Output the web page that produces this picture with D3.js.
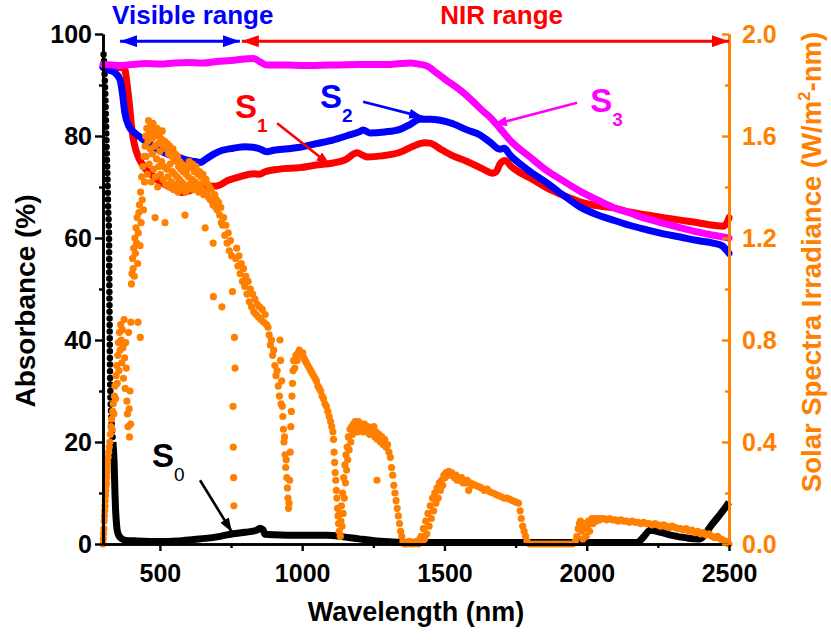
<!DOCTYPE html>
<html>
<head>
<meta charset="utf-8">
<script src="https://cdn.jsdelivr.net/npm/d3@7"></script>
<style>
  body { margin: 0; background: #fff; }
  svg { display: block; font-family: "Liberation Sans", Arial, sans-serif; font-weight: bold; }
</style>
</head>
<body>
<svg id="chart" width="831" height="640"></svg>
<script>
// ---- data ----
const xTicks = [500, 1000, 1500, 2000, 2500]
const xMinor = [750, 1250, 1750, 2250]
const absTicks = [0, 20, 40, 60, 80, 100]
const absMinor = [10, 30, 50, 70, 90]
const irrTicks = [0, 0.4, 0.8, 1.2, 1.6, 2.0]
const irrMinor = [0.2, 0.6, 1.0, 1.4, 1.8]

// S0 (bare substrate): steep UV edge drawn as dots, rest as a thick trace
const s0Edge = [[302,96],[305,93],[307,90],[310,84],[313,77],[316,71],[318,66],[321,61],[322,53],[323,45],[324,38],[325,32],[328,26],[331,23],[335,20]]
const s0Abs = [[335,20],[339,16],[342,10],[344,7],[346,5],[349,3],[353,2],[360,1.3],[367,1],[380,0.7],[420,0.6],[500,0.5],[560,0.6],[620,0.9],[676,1.2],[720,1.6],[757,2.0],[800,2.3],[840,2.7],[852,3.1],[862,2.8],[870,1.9],[900,1.8],[1000,1.7],[1087,1.7],[1145,1.4],[1200,1.0],[1263,0.6],[1320,0.4],[1400,0.3],[1600,0.3],[1800,0.3],[2000,0.3],[2177,0.3],[2200,1.4],[2223,2.7],[2260,2.3],[2300,1.7],[2352,1.2],[2395,1.0],[2415,1.8],[2433,3.3],[2460,5.2],[2493,7.6],[2500,8.2]]

const s1Abs = [[300,93.5],[340,93.5],[375,93.3],[385,90],[395,85],[402,81],[412,78],[423,76],[440,74.3],[458,73],[472,72.4],[500,71],[528,70.2],[560,69.3],[578,68.9],[600,69.2],[623,69.6],[660,70.1],[700,70.2],[740,71.3],[780,72],[830,72.6],[850,72.5],[870,73],[920,73.5],[992,73.8],[1050,74.3],[1108,74.7],[1150,75.3],[1193,76.7],[1210,76.3],[1228,75.9],[1280,76.1],[1344,76.8],[1390,78],[1430,78.7],[1449,78.6],[1490,77.3],[1530,76.1],[1580,75],[1636,73.5],[1670,72.7],[1682,73],[1695,74.5],[1713,75.2],[1735,74],[1766,72.8],[1810,71.5],[1860,69.8],[1920,68.3],[1976,67.1],[2040,66.3],[2093,65.9],[2150,65.1],[2212,64.5],[2270,64],[2328,63.5],[2390,63],[2444,62.5],[2480,62.3],[2493,63],[2500,64]]

const s2Abs = [[300,93.5],[317,93],[340,92.5],[360,91],[368,88.5],[377,84.5],[390,82],[412,80.6],[430,79.8],[458,78.6],[500,77.2],[530,76.4],[563,75.9],[600,75.2],[623,75],[641,74.8],[665,75.6],[694,76.6],[720,77.2],[757,77.6],[800,77.9],[827,77.8],[850,77.5],[876,76.9],[900,77.2],[950,77.5],[992,77.8],[1050,78.5],[1108,79.2],[1160,80.1],[1200,80.8],[1214,81.2],[1238,80.6],[1290,80.8],[1344,81.3],[1380,82.3],[1414,83.3],[1450,83.3],[1485,83.1],[1530,82.4],[1579,81.2],[1625,80.2],[1660,78.8],[1695,77.4],[1710,77.6],[1730,76.3],[1790,73.5],[1860,70.8],[1920,68.3],[1976,66.1],[2035,64.6],[2093,63.5],[2150,62.5],[2212,61.6],[2270,60.8],[2328,60.2],[2390,59.5],[2444,59],[2475,58.5],[2493,57.5],[2500,57]]

const s3Abs = [[300,94],[330,93.9],[360,93.8],[400,94],[450,94.2],[500,94.1],[550,94.3],[600,94.4],[650,94.3],[700,94.6],[750,94.8],[800,95.1],[830,95.2],[850,94.6],[876,93.9],[950,93.9],[1000,93.8],[1100,93.9],[1200,94],[1300,94],[1344,94.2],[1380,94.3],[1410,94.1],[1440,93.7],[1460,92.9],[1500,91.2],[1555,89],[1600,86.8],[1633,85],[1660,83.7],[1695,81.5],[1730,79.2],[1800,75.9],[1860,73.2],[1917,71.2],[1976,69.2],[2036,67.5],[2093,66],[2152,64.9],[2210,63.8],[2268,62.9],[2330,62],[2388,61.2],[2440,60.6],[2480,60.2],[2500,60]]

// AM1.5 solar irradiance, [nm, W/m2-nm]
const solarUv = [[300,0.00],[301,0.02],[302,0.04],[303,0.06],[304,0.09],[305,0.11],[306,0.13],[307,0.15],[308,0.17],[309,0.19],[310,0.21],[311,0.23],[312,0.24],[313,0.26],[314,0.28],[315,0.30],[316,0.32],[318,0.34],[320,0.36],[322,0.38],[324,0.40],[326,0.43],[328,0.46],[330,0.49],[332,0.45],[334,0.52],[336,0.55],[338,0.51],[340,0.58],[342,0.62],[344,0.57],[346,0.66],[348,0.70],[350,0.63],[352,0.74],[354,0.79],[356,0.68],[358,0.83],[360,0.76],[362,0.86],[364,0.80],[366,0.71],[368,0.84],[370,0.77],[372,0.65],[374,0.88],[376,0.73],[378,0.61],[380,0.79],[382,0.69],[384,0.56],[386,0.51],[388,0.46],[390,0.83],[392,0.53],[393,0.42],[395,0.60],[397,0.47],[398,0.87]]

const solarVis = [[400,1.02],[402,1.06],[404,1.12],[406,1.08],[408,1.16],[410,1.05],[412,1.20],[414,1.14],[416,1.24],[418,1.18],[420,1.28],[422,1.10],[423,0.87],[424,1.22],[426,1.30],[428,1.33],[430,1.17],[431,0.81],[432,1.38],[434,1.26],[436,1.44],[438,1.35],[440,1.48],[442,1.31],[444,1.52],[446,1.42],[448,1.56],
[450,1.60],[452,1.52],[454,1.63],[456,1.45],[458,1.58],[460,1.66],[462,1.49],[464,1.61],[466,1.55],[468,1.64],[470,1.42],[472,1.59],[474,1.53],[476,1.65],[478,1.47],[480,1.62],[482,1.56],[483,1.28],[484,1.44],[486,1.60],[488,1.51],[490,1.63],[492,1.40],[494,1.57],[496,1.48],[498,1.61],[500,1.54],[502,1.45],[504,1.59],[506,1.50],[508,1.62],[510,1.43],[512,1.56],[514,1.48],[516,1.58],[518,1.26],[520,1.41],[522,1.55],[524,1.47],[526,1.57],[528,1.44],[530,1.53],[532,1.40],[534,1.56],[536,1.49],[538,1.54],[540,1.42],[542,1.52],[544,1.46],[546,1.55],[548,1.39],[550,1.51],[552,1.45],[554,1.53],[556,1.41],[558,1.50],[560,1.44],[562,1.52],[564,1.38],[566,1.48],[568,1.43],[570,1.50],[572,1.40],[574,1.47],[576,1.42],[578,1.49],[580,1.39],[582,1.46],[584,1.41],[586,1.48],[588,1.29],[590,1.38],[592,1.45],[594,1.40],[596,1.47],[598,1.39],
[600,1.44],[603,1.50],[606,1.41],[609,1.48],[612,1.43],[615,1.49],[618,1.39],[621,1.46],[624,1.42],[627,1.48],[630,1.40],[633,1.45],[636,1.38],[639,1.46],[642,1.41],[645,1.44],[648,1.39],[651,1.45],[654,1.37],[657,1.42],[659,1.24],[662,1.43],[665,1.38],[668,1.41],[671,1.36],[674,1.40],[677,1.35],[680,1.39],[683,1.36],[686,1.33],[687,1.18],[688,0.97],[690,1.34],[693,1.37],[696,1.32],[699,1.35]]

const solarNir = [[702,1.31],[706,1.34],[710,1.29],[714,1.32],[716,1.26],[718,0.93],[720,1.25],[724,1.28],[728,1.21],[732,1.25],[736,1.18],[740,1.22],[744,1.15],[748,1.19],[752,1.13],[755,0.99],[757,0.54],[758,0.38],[759,0.26],[760,0.15],[762,0.81],[764,0.69],[766,1.12],[770,1.16],[774,1.09],[778,1.13],[782,1.06],[786,1.10],[790,1.03],[794,1.08],[798,1.01],[802,1.05],[806,0.98],[810,1.03],[814,0.95],[818,1.00],[822,0.93],[826,0.98],[830,0.91],[834,0.96],[838,0.90],[842,0.94],[846,0.89],[850,0.93],[855,0.88],[860,0.92],[865,0.87],[870,0.90],[875,0.86],[880,0.85],[884,0.82],[888,0.78],[892,0.80],[896,0.74],[900,0.76],[904,0.70],[908,0.66],[912,0.68],[916,0.62],[920,0.58],[922,0.80],[924,0.72],[926,0.55],[928,0.64],[930,0.54],[932,0.50],[934,0.45],[936,0.40],[938,0.42],[940,0.35],[942,0.30],[944,0.33],[946,0.26],[948,0.22],[950,0.18],[952,0.14],[954,0.16],[956,0.25],[958,0.36],[960,0.46],[962,0.52],[964,0.58],[966,0.63],[968,0.68],[970,0.72],[974,0.69],[978,0.74],[982,0.72],[986,0.75],[990,0.76],[994,0.75],
[998,0.74],[1002,0.75],[1006,0.73],[1010,0.72],[1015,0.71],[1020,0.70],[1025,0.69],[1030,0.68],[1035,0.67],[1040,0.66],[1045,0.65],[1050,0.64],[1055,0.62],[1060,0.61],[1065,0.60],[1070,0.58],[1075,0.57],[1080,0.55],[1085,0.54],[1090,0.52],[1095,0.50],[1100,0.48],[1104,0.46],[1108,0.44],[1110,0.41],[1112,0.36],[1114,0.32],[1116,0.28],[1118,0.25],[1120,0.21],[1122,0.18],[1124,0.14],[1126,0.11],[1128,0.08],[1130,0.05],[1132,0.12],[1134,0.03],[1136,0.09],[1138,0.15],[1140,0.07],[1142,0.20],[1144,0.12],[1146,0.26],[1148,0.18],[1150,0.31],[1152,0.24],[1154,0.35],[1156,0.29],[1158,0.38],[1160,0.33],[1162,0.42],[1165,0.37],[1168,0.45],[1171,0.40],[1174,0.46],[1177,0.43],[1180,0.47],
[1183,0.45],[1186,0.48],[1189,0.46],[1192,0.47],[1195,0.44],[1198,0.48],[1201,0.46],[1204,0.47],[1207,0.45],[1210,0.47],[1213,0.44],[1216,0.46],[1219,0.47],[1222,0.45],[1225,0.46],[1228,0.44],[1231,0.46],[1234,0.45],[1237,0.43],[1240,0.45],[1244,0.45],[1248,0.43],[1252,0.46],[1256,0.42],[1260,0.44],[1263,0.25],[1265,0.41],[1270,0.43],[1275,0.40],[1280,0.42],[1285,0.39],[1290,0.41],[1295,0.38],[1300,0.39],[1305,0.36],[1310,0.34],[1314,0.30],[1318,0.27],[1322,0.23],[1326,0.20],[1330,0.17],[1334,0.14],[1338,0.11],[1342,0.08],[1346,0.05],[1350,0.03],[1354,0.01]]

const solarSwir = [[1360,0],[1368,0],[1376,0.01],[1384,0],[1392,0],[1400,0.01],[1408,0],[1414,0.02],[1418,0.03],[1422,0.01],[1426,0.06],[1430,0.02],[1434,0.09],[1438,0.04],[1442,0.12],[1446,0.07],[1450,0.15],[1454,0.10],[1458,0.18],[1462,0.13],[1466,0.20],[1470,0.16],[1474,0.22],[1478,0.18],[1482,0.24],[1486,0.21],[1490,0.25],[1494,0.23],[1498,0.27],[1502,0.26],[1506,0.28],[1510,0.27],[1515,0.285],[1520,0.27],[1525,0.28],[1530,0.27],[1535,0.26],[1540,0.27],[1545,0.25],[1550,0.26],[1555,0.25],[1560,0.26],[1565,0.24],[1570,0.25],[1575,0.24],[1580,0.25],[1585,0.21],[1590,0.24],[1595,0.23],[1600,0.235],[1610,0.23],[1620,0.225],[1630,0.22],[1640,0.21],[1650,0.215],[1660,0.205],[1670,0.20],[1680,0.195],[1690,0.19],[1700,0.185],[1710,0.18],[1720,0.18],[1730,0.175],[1740,0.17],[1750,0.165],[1760,0.16],[1766,0.13],[1770,0.10],[1775,0.07],[1780,0.05],[1785,0.03],[1790,0.01],[1800,0],
[1810,0],[1820,0],[1830,0],[1840,0],[1850,0],[1860,0],[1870,0],[1880,0],[1890,0],[1900,0],[1910,0],[1920,0],[1930,0],[1940,0],[1950,0],
[1960,0.01],[1965,0.03],[1970,0.06],[1974,0.08],[1978,0.09],[1982,0.05],[1986,0.02],[1990,0.06],[1994,0.08],[1998,0.03],[2002,0.07],[2006,0.09],[2010,0.05],[2014,0.08],[2018,0.10],[2022,0.08],[2028,0.10],[2034,0.09],[2040,0.10],[2046,0.095],[2052,0.10],[2060,0.10],[2070,0.095],[2080,0.10],[2090,0.095],[2100,0.095],[2110,0.09],[2120,0.095],[2130,0.09],[2140,0.09],[2150,0.085],[2160,0.09],[2170,0.085],[2180,0.085],[2190,0.08],[2200,0.085],[2210,0.08],[2220,0.08],[2230,0.075],[2240,0.08],[2250,0.075],[2260,0.07],[2270,0.075],[2280,0.07],[2290,0.065],[2300,0.07],[2310,0.065],[2320,0.06],[2330,0.06],[2340,0.055],[2350,0.06],[2360,0.05],[2370,0.055],[2380,0.045],[2390,0.05],[2400,0.04],[2410,0.045],[2420,0.035],[2430,0.04],[2440,0.03],[2450,0.025],[2460,0.03],[2470,0.02],[2480,0.015],[2490,0.01],[2500,0.0]]

// annotations in data units [nm, %]
const sampleLabels = [
  { name: "S", sub: "1", color: "#ff0000", at: [764, 83.5], arrow: [[912, 82.5], [1098, 74.3]] },
  { name: "S", sub: "2", color: "#0000ff", at: [1063, 85.5], arrow: [[1214, 86.7], [1425, 83.7]] },
  { name: "S", sub: "3", color: "#ff00ff", at: [2012, 84.7], arrow: [[1966, 86.5], [1671, 82.2]] },
  { name: "S", sub: "0", color: "#000000", at: [472, 15.1], arrow: [[641, 12.5], [753, 2.35]] },
]
const ranges = [
  { text: "Visible range", color: "#0000ff", from: 360, to: 781, textAt: 332 },
  { text: "NIR range", color: "#ff0000", from: 788, to: 2500, textAt: 1485 },
]

const ORANGE = "#ff8000"
const svg = d3.select("#chart")

const x = d3.scaleLinear().domain([300, 2500]).range([103, 729])
const yAbs = d3.scaleLinear().domain([0, 100]).range([544, 34])
const yIrr = d3.scaleLinear().domain([0, 2]).range([544, 34])

const absLine = d3.line()
  .x(d => x(d[0]))
  .y(d => yAbs(d[1]))
  .curve(d3.curveMonotoneX)

// arrow heads
const defs = svg.append("defs")
const addMarker = (id, color, len, wid) => {
  defs.append("marker")
    .attr("id", id)
    .attr("markerUnits", "userSpaceOnUse")
    .attr("markerWidth", len)
    .attr("markerHeight", wid)
    .attr("refX", len)
    .attr("refY", wid / 2)
    .attr("orient", "auto-start-reverse")
    .append("path")
    .attr("d", `M0,0L${len},${wid / 2}L0,${wid}Z`)
    .attr("fill", color)
}
sampleLabels.forEach((s, i) => addMarker("head" + i, s.color, 14, 10))
ranges.forEach((r, i) => addMarker("range" + i, r.color, 17, 12))

// S0
svg.append("path")
  .attr("d", absLine(s0Edge))
  .attr("fill", "none")
  .attr("stroke", "#000")
  .attr("stroke-width", 6.5)
  .attr("stroke-linecap", "round")
  .attr("stroke-dasharray", "0 6.6")
svg.append("path")
  .attr("d", absLine(s0Abs))
  .attr("fill", "none")
  .attr("stroke", "#000")
  .attr("stroke-width", 7)
  .attr("stroke-linejoin", "round")

// S1..S3
;[[s1Abs, "#ff0000"], [s2Abs, "#0000ff"], [s3Abs, "#ff00ff"]].forEach(([data, color]) => {
  svg.append("path")
    .attr("d", absLine(data))
    .attr("fill", "none")
    .attr("stroke", color)
    .attr("stroke-width", 7)
    .attr("stroke-linejoin", "round")
    .attr("stroke-linecap", "round")
})

// solar spectrum
const solar = [].concat(solarUv, solarVis, solarNir, solarSwir)
svg.append("g")
  .selectAll("circle")
  .data(solar)
  .enter()
  .append("circle")
  .attr("cx", d => x(d[0]))
  .attr("cy", d => yIrr(d[1]))
  .attr("r", 3.6)
  .attr("fill", ORANGE)

// axes
const styleAxis = (g, color, size) => {
  g.select(".domain").attr("stroke", color).attr("stroke-width", 2.6)
  g.selectAll(".tick line").attr("stroke", color).attr("stroke-width", 2.4)
  g.selectAll(".tick text")
    .attr("fill", color)
    .style("font-size", size + "px")
    .style("font-weight", "bold")
    .style("font-family", '"Liberation Sans", Arial, sans-serif')
}

svg.append("g").attr("transform", "translate(0,544)")
  .call(d3.axisBottom(x).tickValues(xMinor).tickSize(4).tickFormat("").tickSizeOuter(0))
  .call(g => styleAxis(g, "#000", 25))
svg.append("g").attr("transform", "translate(0,544)")
  .call(d3.axisBottom(x).tickValues(xTicks).tickSize(7).tickPadding(13)
    .tickFormat(d3.format("d")).tickSizeOuter(0))
  .call(g => styleAxis(g, "#000", 25))

svg.append("g").attr("transform", "translate(103,0)")
  .call(d3.axisLeft(yAbs).tickValues(absMinor).tickSize(4).tickFormat("").tickSizeOuter(0))
  .call(g => styleAxis(g, "#000", 25))
svg.append("g").attr("transform", "translate(103,0)")
  .call(d3.axisLeft(yAbs).tickValues(absTicks).tickSize(8).tickPadding(3).tickSizeOuter(0))
  .call(g => styleAxis(g, "#000", 25))

svg.append("g").attr("transform", "translate(729,0)")
  .call(d3.axisRight(yIrr).tickValues(irrMinor).tickSize(-4).tickFormat("").tickSizeOuter(0))
  .call(g => styleAxis(g, ORANGE, 25))
svg.append("g").attr("transform", "translate(729,0)")
  .call(d3.axisRight(yIrr).tickValues(irrTicks).tickSize(-7).tickPadding(13)
    .tickFormat(d3.format(".1f")).tickSizeOuter(0))
  .call(g => styleAxis(g, ORANGE, 25))

// axis titles
svg.append("text")
  .attr("transform", "translate(35,301) rotate(-90)")
  .attr("text-anchor", "middle")
  .style("font-size", "28px")
  .text("Absorbance (%)")

svg.append("text")
  .attr("x", 416).attr("y", 621)
  .attr("text-anchor", "middle")
  .style("font-size", "27px")
  .text("Wavelength (nm)")

const rTitle = svg.append("text")
  .attr("transform", "translate(821,262) rotate(-90)")
  .attr("text-anchor", "middle")
  .attr("fill", ORANGE)
  .style("font-size", "27.5px")
rTitle.append("tspan").text("Solar Spectra Irradiance (W/m")
rTitle.append("tspan").attr("dy", -11).style("font-size", "17px").text("2")
rTitle.append("tspan").attr("dy", 11).text("-nm)")

// range arrows + labels
ranges.forEach((r, i) => {
  svg.append("line")
    .attr("x1", x(r.from)).attr("x2", x(r.to))
    .attr("y1", yAbs(98.6)).attr("y2", yAbs(98.6))
    .attr("stroke", r.color)
    .attr("stroke-width", 3)
    .attr("marker-start", `url(#range${i})`)
    .attr("marker-end", `url(#range${i})`)
  svg.append("text")
    .attr("x", x(r.textAt)).attr("y", yAbs(102))
    .attr("fill", r.color)
    .style("font-size", "26px")
    .text(r.text)
})

// sample labels with arrows
sampleLabels.forEach((s, i) => {
  svg.append("line")
    .attr("x1", x(s.arrow[0][0])).attr("y1", yAbs(s.arrow[0][1]))
    .attr("x2", x(s.arrow[1][0])).attr("y2", yAbs(s.arrow[1][1]))
    .attr("stroke", s.color)
    .attr("stroke-width", 2.6)
    .attr("marker-end", `url(#head${i})`)
  const t = svg.append("text")
    .attr("x", x(s.at[0])).attr("y", yAbs(s.at[1]))
    .attr("fill", s.color)
  t.append("tspan").style("font-size", "33px").text(s.name)
  t.append("tspan")
    .attr("dy", 14)
    .style("font-size", "19px")
    .style("font-weight", s.sub === "0" ? "normal" : "bold")
    .text(s.sub)
})
</script>
</body>
</html>
